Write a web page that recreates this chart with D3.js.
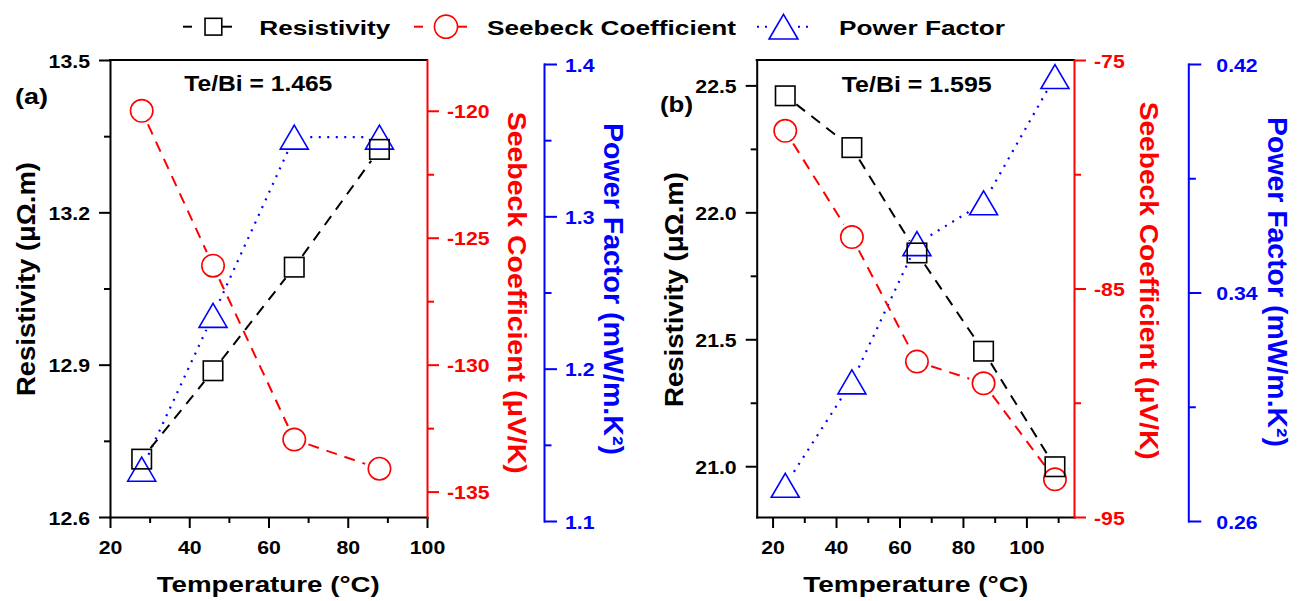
<!DOCTYPE html>
<html><head><meta charset="utf-8">
<script src="https://cdn.jsdelivr.net/npm/d3@7"></script>
<style>
body{margin:0;background:#fff;}
svg text{font-family:"Liberation Sans",Arial,Helvetica,sans-serif;font-weight:bold;}
</style></head><body>
<svg id="c" width="1308" height="601"></svg>
<script>
// ---------- data ----------
const seriesNames = ["Resistivity", "Seebeck Coefficient", "Power Factor"];
const tempA = [28, 46, 66.5, 88];
const resA  = [12.714, 12.888, 13.092, 13.324];
const seebA = [-120.0, -126.1, -132.95, -134.1];
const pfA   = [1.134, 1.235, 1.352, 1.352];
const tempB = [24, 45, 65.5, 86.5, 109];
const resB  = [22.459, 22.255, 21.84, 21.453, 20.998];
const seebB = [-78.1, -82.75, -88.2, -89.15, -93.35];
const pfB   = [0.2725, 0.3087, 0.3571, 0.3714, 0.4156];

const xMajorA = [20, 40, 60, 80, 100], xMinorA = [30, 50, 70, 90];
const resMajorA = [12.6, 12.9, 13.2, 13.5], resMinorA = [12.75, 13.05, 13.35];
const seebMajorA = [-120, -125, -130, -135], seebMinorA = [-122.5, -127.5, -132.5];
const pfMajorA = [1.1, 1.2, 1.3, 1.4], pfMinorA = [1.15, 1.25, 1.35];
const xMajorB = [20, 40, 60, 80, 100], xMinorB = [30, 50, 70, 90, 110];
const resMajorB = [21.0, 21.5, 22.0, 22.5], resMinorB = [21.25, 21.75, 22.25];
const seebMajorB = [-75, -85, -95], seebMinorB = [-80, -90];
const pfMajorB = [0.26, 0.34, 0.42], pfMinorB = [0.30, 0.38];

const panelLabels = ["(a)", "(b)"];
const ratioLabels = ["Te/Bi = 1.465", "Te/Bi = 1.595"];
const xTitle = "Temperature (\u00B0C)";
const resTitle = "Resistivity (\u03BC\u03A9.m)";
const seebTitle = "Seebeck Coefficient (\u03BCV/K)";
const pfTitle = "Power Factor (mW/m.K\u00B2)";

// ---------- setup ----------
const svg = d3.select("#c");
const BLACK = "#000", RED = "#ff0000", BLUE = "#0000ff";
const SX = 1.12, TFS = 19;
const fmtH = f => v => f(v).replace("\u2212", "-");

function axis(g, kind, scale, majors, minors, fmt, color, off, majLen, minLen) {
  const mk = kind === "left" ? d3.axisLeft : kind === "right" ? d3.axisRight : d3.axisBottom;
  const gm = g.append("g").attr("color", color);
  gm.call(mk(scale).tickValues(minors).tickSize(minLen).tickSizeOuter(0).tickFormat(""));
  gm.select(".domain").remove();
  gm.selectAll("line").attr("stroke-width", 2);
  const ga = g.append("g").attr("color", color);
  ga.call(mk(scale).tickValues(majors).tickSize(majLen).tickSizeOuter(0).tickFormat(fmtH(fmt)));
  ga.attr("font-size", null).attr("font-family", null);
  ga.select(".domain").attr("stroke-width", 2).attr("stroke-linecap", "square");
  ga.selectAll("line").attr("stroke-width", 2);
  ga.selectAll(".tick text").each(function () {
    const t = d3.select(this);
    t.attr("x", null).attr("y", null).attr("dy", null).attr("fill", color)
     .style("font-size", TFS + "px");
    if (kind === "left") t.attr("text-anchor", "end").attr("transform", `translate(${-off},7) scale(${SX},1)`);
    else if (kind === "right") t.attr("text-anchor", "start").attr("transform", `translate(${off},7) scale(${SX},1)`);
    else t.attr("text-anchor", "middle").attr("transform", `translate(0,${off}) scale(${SX},1)`);
  });
}

function series(g, xs, ys, xS, yS, color, dash, lw, gap, marker) {
  const pts = xs.map((x, i) => [xS(x), yS(ys[i])]);
  for (let i = 0; i < pts.length - 1; i++) {
    const [x1, y1] = pts[i], [x2, y2] = pts[i + 1];
    const L = Math.hypot(x2 - x1, y2 - y1), ux = (x2 - x1) / L, uy = (y2 - y1) / L;
    g.append("line")
      .attr("x1", x1 + ux * gap).attr("y1", y1 + uy * gap)
      .attr("x2", x2 - ux * gap).attr("y2", y2 - uy * gap)
      .attr("stroke", color).attr("stroke-width", lw).attr("stroke-dasharray", dash);
  }
  pts.forEach(p => drawMarker(g, marker, p[0], p[1], color, 1));
}

function drawMarker(g, type, x, y, color, s) {
  if (type === "square") {
    const h = 9.75 * s;
    g.append("rect").attr("x", x - h).attr("y", y - h).attr("width", 2 * h).attr("height", 2 * h)
      .attr("fill", "none").attr("stroke", color).attr("stroke-width", 1.6);
  } else if (type === "circle") {
    g.append("circle").attr("cx", x).attr("cy", y).attr("r", 11.2 * s)
      .attr("fill", "none").attr("stroke", color).attr("stroke-width", 1.6);
  } else {
    const w = 14 * s, h = 12 * s;
    g.append("path").attr("d", `M${x},${y - h}L${x + w},${y + h}L${x - w},${y + h}Z`)
      .attr("fill", "none").attr("stroke", color).attr("stroke-width", 1.6);
  }
}

function txt(g, str, x, y, opts) {
  const t = g.append("text").attr("transform", `translate(${x},${y})` + (opts.rot ? ` rotate(${opts.rot})` : ""))
    .attr("fill", opts.color || BLACK).style("font-size", opts.fs + "px").text(str);
  if (opts.len) t.attr("textLength", opts.len).attr("lengthAdjust", "spacingAndGlyphs");
  return t;
}

function panel(cfg) {
  const g = svg.append("g");
  const x = d3.scaleLinear().domain(cfg.xDom).range(cfg.xRange);
  const yR = d3.scaleLinear().domain(cfg.resDom).range([517, 60]);
  const yS = d3.scaleLinear().domain(cfg.seebDom).range([517, 60]);
  const yP = d3.scaleLinear().domain(cfg.pfDom).range([521, 64]);
  g.append("line").attr("x1", x.range()[0]).attr("x2", x.range()[1]).attr("y1", yR.range()[1]).attr("y2", yR.range()[1])
    .attr("stroke", BLACK).attr("stroke-width", 2).attr("stroke-linecap", "square");
  axis(g.append("g").attr("transform", `translate(0,${yR.range()[0]})`), "bottom", x, cfg.xMaj, cfg.xMin, d3.format("d"), BLACK, 37, 11, 6);
  axis(g.append("g").attr("transform", `translate(${x.range()[0]},0)`), "left", yR, cfg.resMaj, cfg.resMin, d3.format(".1f"), BLACK, 20, 11, 6);
  axis(g.append("g").attr("transform", `translate(${x.range()[1]},0)`), "right", yS, cfg.seebMaj, cfg.seebMin, d3.format("d"), RED, 20, 12, 7);
  axis(g.append("g").attr("transform", `translate(${cfg.pfX},0)`), "right", yP, cfg.pfMaj, cfg.pfMin, cfg.pfFmt, BLUE, cfg.pfOff, 13, 7.5);

  series(g, cfg.temp, cfg.pf, x, yP, BLUE, "2,6.5", 2.2, 16, "triangle");
  series(g, cfg.temp, cfg.seeb, x, yS, RED, "11,8", 2, 15, "circle");
  series(g, cfg.temp, cfg.res, x, yR, BLACK, "11,8", 2, 14, "square");

  txt(g, cfg.label, cfg.labelPos[0], cfg.labelPos[1], { fs: 22, len: 33 });
  txt(g, cfg.ratio, cfg.ratioPos[0], cfg.ratioPos[1], { fs: 22, len: cfg.ratioLen });
  txt(g, xTitle, cfg.xtPos[0], 591.7, { fs: 22, len: cfg.xtLen });
  txt(g, resTitle, cfg.rtPos[0], cfg.rtPos[1], { fs: 26, len: cfg.rtLen, rot: -90 });
  txt(g, seebTitle, cfg.stPos[0], cfg.stPos[1], { fs: 26, len: cfg.stLen, rot: 90, color: RED });
  txt(g, pfTitle, cfg.ptPos[0], cfg.ptPos[1], { fs: 27, len: cfg.ptLen, rot: 90, color: BLUE });
}

panel({
  xDom: [20, 100], xRange: [110, 427], resDom: [12.6, 13.5], seebDom: [-136, -118], pfDom: [1.1, 1.4],
  xMaj: xMajorA, xMin: xMinorA, resMaj: resMajorA, resMin: resMinorA, seebMaj: seebMajorA, seebMin: seebMinorA,
  pfMaj: pfMajorA, pfMin: pfMinorA, pfFmt: d3.format(".1f"), pfX: 544, pfOff: 21,
  temp: tempA, res: resA, seeb: seebA, pf: pfA,
  label: panelLabels[0], labelPos: [15, 103.7], ratio: ratioLabels[0], ratioPos: [184.3, 91], ratioLen: 148,
  xtPos: [156.7], xtLen: 223, rtPos: [35, 396], rtLen: 234, stPos: [508.3, 111.7], stLen: 362,
  ptPos: [604, 123], ptLen: 332
});
panel({
  xDom: [15, 115], xRange: [756.7, 1074], resDom: [20.8, 22.6], seebDom: [-95, -75], pfDom: [0.26, 0.42],
  xMaj: xMajorB, xMin: xMinorB, resMaj: resMajorB, resMin: resMinorB, seebMaj: seebMajorB, seebMin: seebMinorB,
  pfMaj: pfMajorB, pfMin: pfMinorB, pfFmt: d3.format(".2f"), pfX: 1188.3, pfOff: 28,
  temp: tempB, res: resB, seeb: seebB, pf: pfB,
  label: panelLabels[1], labelPos: [660, 112], ratio: ratioLabels[1], ratioPos: [841.7, 91.7], ratioLen: 150,
  xtPos: [803.3], xtLen: 225, rtPos: [683, 407], rtLen: 235, stPos: [1140, 101.7], stLen: 358,
  ptPos: [1268, 117], ptLen: 330
});

// ---------- legend ----------
const lg = svg.append("g");
const legendItems = [
  { name: seriesNames[0], color: BLACK, marker: "square", dash: "none", l: [183, 192], r: [222, 232], m: 213.4, s: 0.86, tx: 259.3, tl: 131 },
  { name: seriesNames[1], color: RED, marker: "circle", dash: "none", l: [414, 423], r: [458, 467], m: 446, s: 1.03, tx: 487, tl: 249 },
  { name: seriesNames[2], color: BLUE, marker: "triangle", dash: "2,6", l: [757, 770], r: [798, 814], m: 783.5, s: 1.03, tx: 839, tl: 166 }
];
legendItems.forEach(it => {
  [it.l, it.r].forEach(seg => lg.append("line").attr("x1", seg[0]).attr("x2", seg[1]).attr("y1", 26.7).attr("y2", 26.7)
    .attr("stroke", it.color).attr("stroke-width", 2).attr("stroke-dasharray", it.dash));
  drawMarker(lg, it.marker, it.m, 26.7, it.color, it.s);
  txt(lg, it.name, it.tx, 35, { fs: 20, len: it.tl });
});
</script>
</body></html>
